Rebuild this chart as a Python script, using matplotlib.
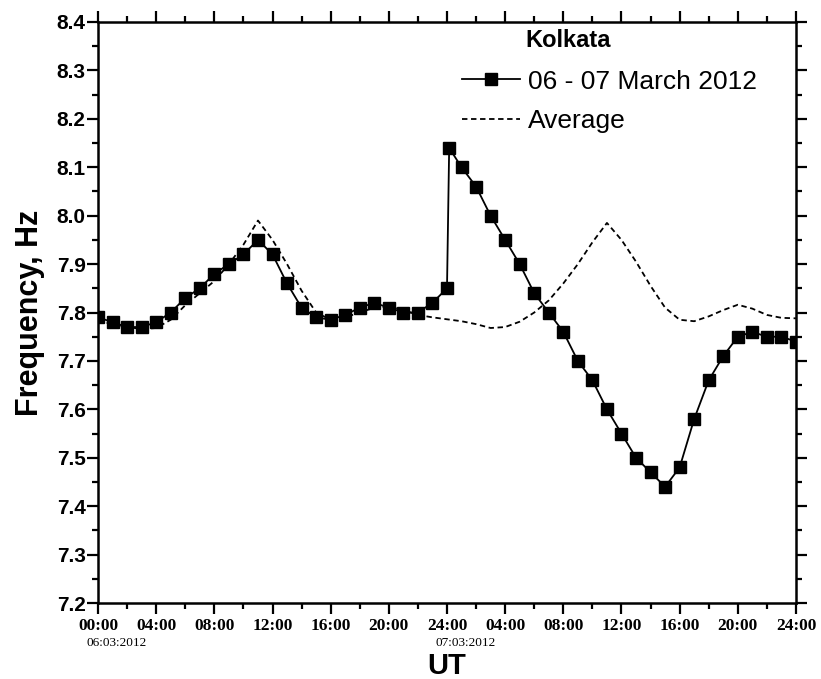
import matplotlib
matplotlib.use('Agg')
from matplotlib import pyplot as plt
from matplotlib.ticker import MultipleLocator

# hours since 00:00 UT on 06.03.2012
hours = list(range(0, 25)) + [24.15] + list(range(25, 49))
freq = [7.79, 7.78, 7.77, 7.77, 7.78, 7.80, 7.83, 7.85, 7.88, 7.90, 7.92, 7.95,
        7.92, 7.86, 7.81, 7.79, 7.785, 7.795, 7.81, 7.82, 7.81, 7.80, 7.80, 7.82,
        7.85, 8.14,
        8.10, 8.06, 8.00, 7.95, 7.90, 7.84, 7.80, 7.76, 7.70, 7.66, 7.60, 7.55,
        7.50, 7.47, 7.44, 7.48, 7.58, 7.66, 7.71, 7.75, 7.76, 7.75, 7.75, 7.74]

avg_hours = list(range(0, 49))
avg_freq = [7.785, 7.775, 7.77, 7.766, 7.768, 7.785, 7.815, 7.84, 7.865, 7.90,
            7.94, 7.99, 7.95, 7.90, 7.845, 7.80, 7.785, 7.79, 7.80, 7.81,
            7.812, 7.805, 7.795, 7.79, 7.786, 7.782, 7.776, 7.768, 7.77, 7.781,
            7.80, 7.825, 7.86, 7.90, 7.945, 7.985, 7.95, 7.905, 7.855, 7.81,
            7.785, 7.782, 7.792, 7.805, 7.816, 7.808, 7.795, 7.789, 7.788]

xtick_pos = list(range(0, 49, 4))
xtick_lab = ['00:00', '04:00', '08:00', '12:00', '16:00', '20:00', '24:00',
             '04:00', '08:00', '12:00', '16:00', '20:00', '24:00']
dates = [(0, '06:03:2012'), (24, '07:03:2012')]

fig = plt.figure(figsize=(8.21, 6.79), dpi=100)
ax = fig.add_axes([0.1194, 0.1119, 0.8501, 0.8557])

ax.plot(hours, freq, c='black', lw=1.3, marker='s', ms=8, label='06 - 07 March 2012', zorder=3)
ax.plot(avg_hours, avg_freq, c='black', lw=1.3, ls=(0, (3, 2)), label='Average', zorder=2)

ax.set_xlim(0, 48)
ax.set_ylim(7.2, 8.4)
ax.xaxis.set_major_locator(MultipleLocator(4))
ax.xaxis.set_minor_locator(MultipleLocator(2))
ax.yaxis.set_major_locator(MultipleLocator(0.1))
ax.yaxis.set_minor_locator(MultipleLocator(0.05))
ax.set_xticks(xtick_pos)
ax.set_xticklabels(xtick_lab, family='Liberation Serif', fontweight='bold', fontsize=12.5)
ax.set_yticklabels(['%.1f' % v for v in ax.get_yticks()],
                   family='Liberation Sans', fontweight='bold', fontsize=15)

for s in ax.spines.values():
    s.set_linewidth(1.8)
ax.tick_params(which='both', direction='out', top=True, right=True, width=1.6)
ax.tick_params(which='major', length=8, pad=1)
ax.tick_params(which='minor', length=4.5)
ax.tick_params(axis='x', pad=3)

for xd, txt in dates:
    ax.text(xd + 1.27, -0.068, txt, transform=ax.get_xaxis_transform(),
            ha='center', va='center', family='Liberation Serif', fontsize=9.5)

ax.set_xlabel('UT', family='Liberation Sans', fontweight='bold', fontsize=21, labelpad=13)
ax.set_ylabel('Frequency, Hz', family='Liberation Sans', fontweight='bold', fontsize=22, labelpad=8)

ax.text(0.612, 0.969, 'Kolkata', transform=ax.transAxes, ha='left', va='center',
        family='Liberation Sans', fontweight='bold', fontsize=17)
leg = ax.legend(loc='upper left', bbox_to_anchor=(0.521, 0.918), frameon=False,
                prop={'family': 'Liberation Sans', 'size': 19}, handlelength=2.2,
                handletextpad=0.3, labelspacing=0.6, borderpad=0, borderaxespad=0)

fig.savefig('out.png', dpi=100)
